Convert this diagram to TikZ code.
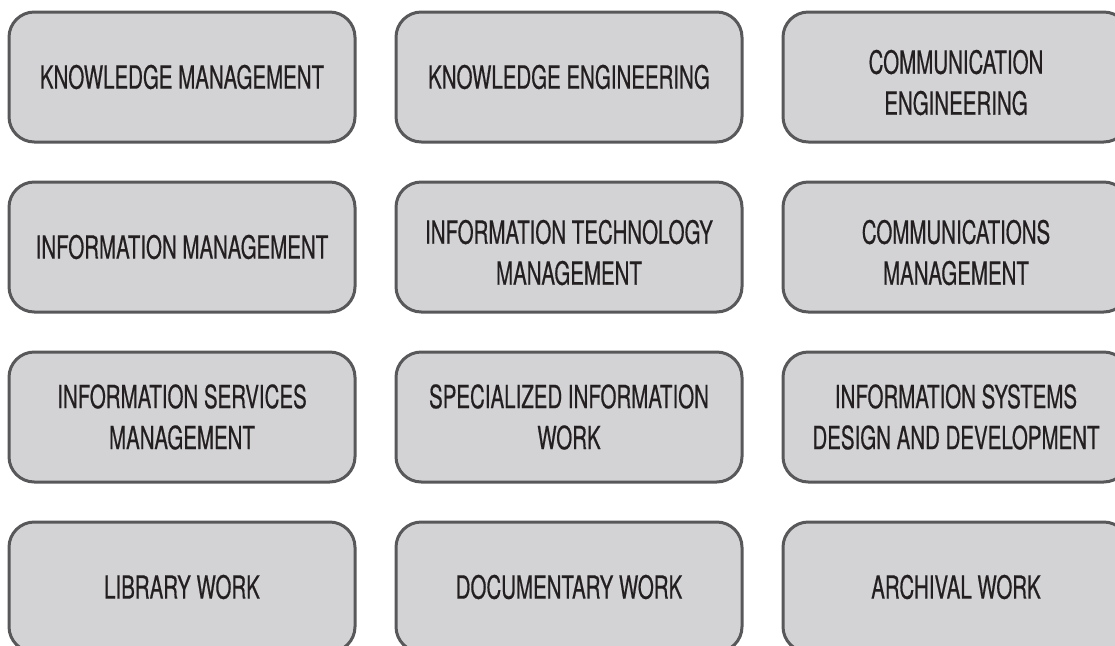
\documentclass[tikz,border=0pt]{standalone}
\usepackage{fontspec}
\setmainfont{TeX Gyre Heros}[FakeStretch=0.64, FakeBold=0.5]
\usepackage{tikz}

\definecolor{boxfill}{RGB}{211,211,213}
\definecolor{boxline}{RGB}{88,88,90}
\definecolor{boxtext}{RGB}{35,31,32}

\tikzset{
  topic/.style={draw=boxline, fill=boxfill, line width=2.25pt, rounded corners=19pt,
    minimum width=259.5pt, minimum height=97.5pt, inner sep=0pt, align=center,
    text=boxtext, font=\fontsize{24}{30.75}\selectfont},
  lowered/.style={text height=57pt}
}

\begin{document}
\begin{tikzpicture}[x=0.75pt, y=-0.75pt]
    \useasboundingbox (0,0) rectangle (1115,646);
    % first row
    \node[topic] (km) at (182,77) {KNOWLEDGE MANAGEMENT};
    \node[topic] (ke) at (569,77) {KNOWLEDGE ENGINEERING};
    \node[topic, lowered] (ce) at (956,77) {COMMUNICATION\\ENGINEERING};
    % second row
    \node[topic] (im) at (182,247) {INFORMATION MANAGEMENT};
    \node[topic, lowered] (itm) at (569,247) {INFORMATION TECHNOLOGY\\MANAGEMENT};
    \node[topic, lowered] (cm) at (956,247) {COMMUNICATIONS\\MANAGEMENT};
    % third row
    \node[topic] (ism) at (182,417) {INFORMATION SERVICES\\MANAGEMENT};
    \node[topic] (siw) at (569,417) {SPECIALIZED INFORMATION\\WORK};
    \node[topic] (isd) at (956,417) {INFORMATION SYSTEMS\\DESIGN AND DEVELOPMENT};
    % last row
    \node[topic] (lw) at (182,587) {LIBRARY WORK};
    \node[topic] (dw) at (569,587) {DOCUMENTARY WORK};
    \node[topic] (aw) at (956,587) {ARCHIVAL WORK};
  \end{tikzpicture}
\end{document}
